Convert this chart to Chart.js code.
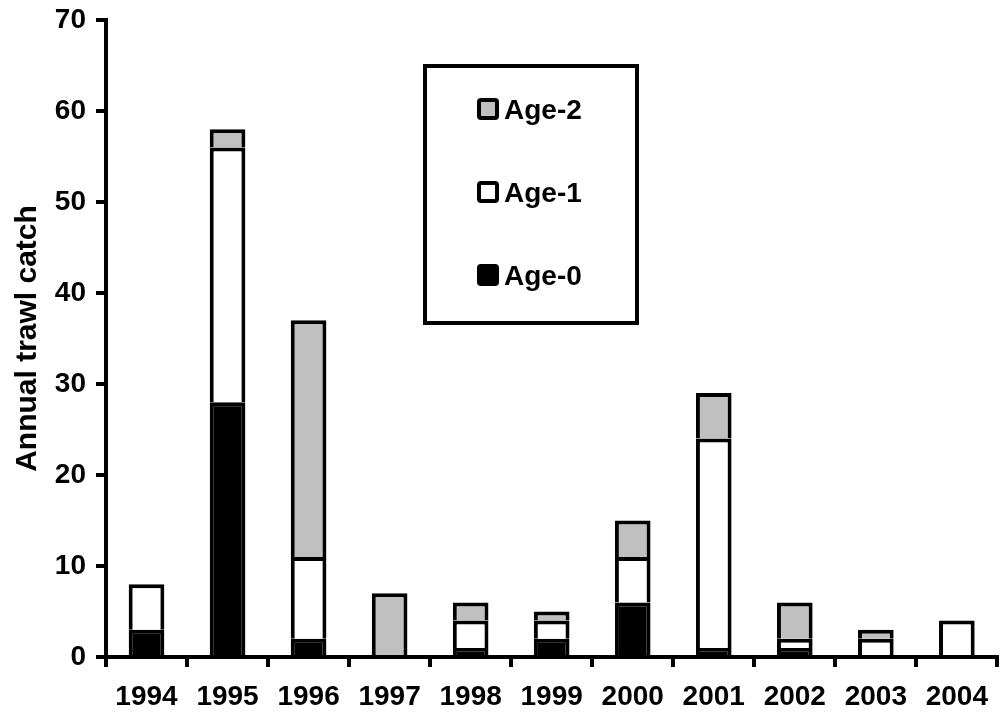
<!DOCTYPE html>
<html>
<head>
<meta charset="utf-8">
<script src="https://cdn.jsdelivr.net/npm/chart.js@4/dist/chart.umd.min.js"></script>
<style>
  html, body { margin: 0; padding: 0; background: #fff; }
  #wrap { width: 1001px; height: 717px; }
</style>
</head>
<body>
<div id="wrap"><canvas id="catch-chart" width="1001" height="717"></canvas></div>
<script>
"use strict";

// values
const years = ["1994", "1995", "1996", "1997", "1998", "1999", "2000", "2001", "2002", "2003", "2004"];
const age0 = [3, 28, 2, 0, 1, 2, 6, 1, 1, 0, 0];
const age1 = [5, 28, 9, 0, 3, 2, 5, 23, 1, 2, 4];
const age2 = [0, 2, 26, 7, 2, 1, 4, 5, 4, 1, 0];
const yTicks = [0, 10, 20, 30, 40, 50, 60, 70];

const FONT = "'Liberation Sans', Arial, sans-serif";

// boxed legend inside the plot, top entry first (Age-2 .. Age-0)
const boxLegend = {
  id: "boxLegend",
  afterDraw(chart) {
    const ctx = chart.ctx;
    const x0 = 425, y0 = 66, w = 212, h = 257;
    ctx.save();
    ctx.lineWidth = 4;
    ctx.strokeStyle = "#000";
    ctx.fillStyle = "#fff";
    ctx.fillRect(x0, y0, w, h);
    ctx.strokeRect(x0, y0, w, h);

    const sets = chart.data.datasets.slice().reverse();
    ctx.font = "bold 28px " + FONT;
    ctx.textBaseline = "middle";
    sets.forEach((ds, i) => {
      const cy = 109 + i * 83;
      ctx.fillStyle = ds.backgroundColor;
      ctx.beginPath();
      ctx.roundRect(479, cy - 9, 18, 18, 2);
      ctx.fill();
      ctx.lineWidth = 4;
      ctx.strokeStyle = "#000";
      ctx.stroke();
      ctx.fillStyle = "#000";
      ctx.fillText(ds.label, 504, cy + 2);
    });
    ctx.restore();
  },
};

function makeSet(label, data, color) {
  return {
    label: label,
    data: data,
    backgroundColor: color,
    borderColor: "#000",
    borderWidth: { top: 4, left: 4, right: 4, bottom: 0 },
    borderSkipped: false,
    barPercentage: 0.44,
    categoryPercentage: 1,
  };
}

const ctx = document.getElementById("catch-chart").getContext("2d");
const catchChart = new Chart(ctx, {
  type: "bar",
  data: {
    labels: years,
    datasets: [
      makeSet("Age-0", age0, "#000000"),
      makeSet("Age-1", age1, "#ffffff"),
      makeSet("Age-2", age2, "#c0c0c0"),
    ],
  },
  plugins: [boxLegend],
  options: {
    responsive: false,
    animation: false,
    layout: { padding: { top: 20, right: -3, bottom: 0, left: 0 } },
    plugins: {
      legend: { display: false },
      tooltip: { enabled: false },
    },
    scales: {
      x: {
        stacked: true,
        afterFit(scale) { scale.height = 60; },
        border: { display: true, color: "#000", width: 4 },
        grid: {
          offset: true,
          drawOnChartArea: false,
          drawTicks: true,
          tickLength: 10,
          color: "#000",
          lineWidth: 4,
        },
        ticks: {
          color: "#000",
          padding: 13,
          maxRotation: 0,
          font: { family: FONT, size: 28, weight: "bold" },
        },
      },
      y: {
        stacked: true,
        min: 0,
        max: 70,
        afterFit(scale) {
          scale.width = 106;
          scale.paddingTop = 0;
          scale.paddingBottom = 0;
        },
        afterBuildTicks(scale) { scale.ticks = yTicks.map(v => ({ value: v })); },
        border: { display: true, color: "#000", width: 4 },
        grid: {
          drawOnChartArea: false,
          drawTicks: true,
          tickLength: 10,
          color: "#000",
          lineWidth: 4,
        },
        ticks: {
          color: "#000",
          padding: 10,
          font: { family: FONT, size: 28, weight: "bold" },
        },
        title: {
          display: true,
          text: "Annual trawl catch",
          color: "#000",
          padding: { top: 10, bottom: 0 },
          font: { family: FONT, size: 30, weight: "bold", lineHeight: 1.2 },
        },
      },
    },
  },
});
</script>
</body>
</html>
